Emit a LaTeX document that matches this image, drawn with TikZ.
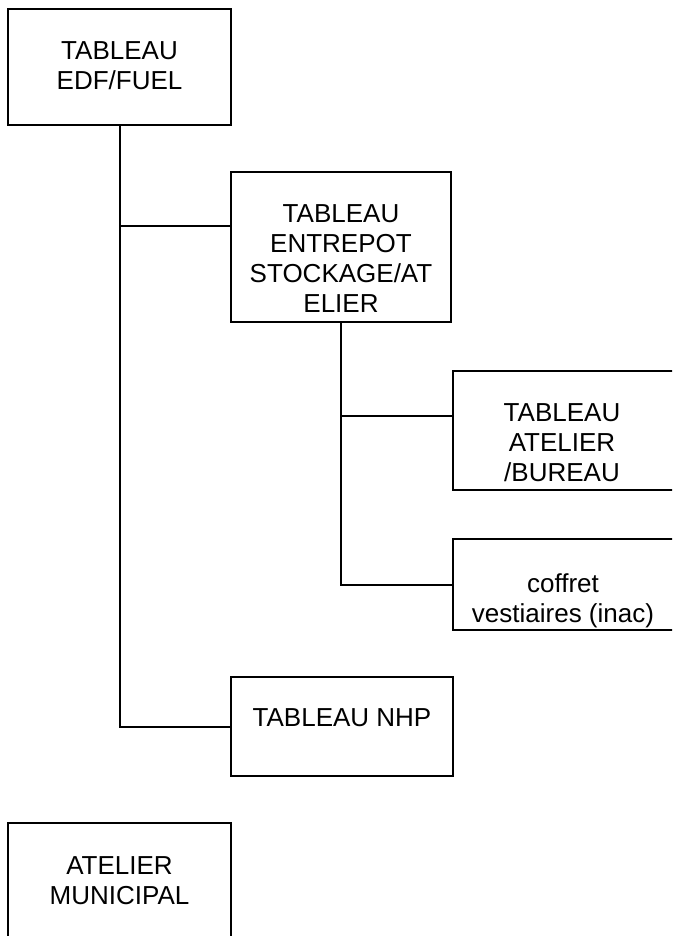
\documentclass[tikz,border=0pt]{standalone}
\usepackage{fontspec}
\setmainfont{Liberation Sans}
\usetikzlibrary{calc}

\tikzset{
    box/.style={draw, line width=1.5pt, inner sep=0pt},
    boxsize/.style 2 args={minimum width=#1*0.75pt, minimum height=#2*0.75pt},
    txt/.style={anchor=north, inner sep=0pt, align=center,
        font=\fontsize{19.5}{22.5}\selectfont},
    wire/.style={line width=1.5pt},
}

\begin{document}
\begin{tikzpicture}[x=0.75pt, y=-0.75pt]

    % --- 1. 枠 ---
    \useasboundingbox (0,0) rectangle (672,936);
    \clip (0,0) rectangle (672,936);

    % --- 2. 変数定義 ---
    \pgfmathsetmacro{\gap}{33}   % 枠の上端から文字まで

    % --- 3. 箱 ---
    \node[box, boxsize={223}{116}] (edf) at (119.5,67) {};
    \node[txt] (edf-txt) at ($(edf.north)+(0,\gap)$) {TABLEAU\\EDF/FUEL};

    \node[box, boxsize={220}{150}] (entrepot) at (341,247) {};
    \node[txt] (entrepot-txt) at ($(entrepot.north)+(0,\gap)$)
        {TABLEAU\\ENTREPOT\\STOCKAGE/AT\\ELIER};

    % 右端は切れている
    \node[box, boxsize={226}{119}] (bureau) at (566,430.5) {};
    \node[txt] (bureau-txt) at ($(bureau.north)+(-4,\gap)$)
        {TABLEAU\\ATELIER\\/BUREAU};

    \node[box, boxsize={226}{91}] (coffret) at (566,584.5) {};
    \node[txt] (coffret-txt) at ($(coffret.north)+(-3,\gap+2)$)
        {coffret\\vestiaires (inac)};

    \node[box, boxsize={222}{99}] (nhp) at (342,726.5) {};
    \node[txt] (nhp-txt) at ($(nhp.north)+(0,\gap-1)$) {TABLEAU NHP};

    \node[box, boxsize={223}{116}] (municipal) at (119.5,881) {};
    \node[txt] (municipal-txt) at ($(municipal.north)+(0,\gap+1)$)
        {ATELIER\\MUNICIPAL};

    % --- 4. 配線 ---
    \coordinate (tap-entrepot) at ($(entrepot.west)+(0,-21)$);
    \coordinate (tap-bureau) at ($(bureau.west)+(0,-14.5)$);

    \draw[wire] (edf.south) |- (nhp.west);
    \draw[wire] (edf.south |- tap-entrepot) -- (tap-entrepot);
    \draw[wire] (entrepot.south) |- (coffret.west);
    \draw[wire] (entrepot.south |- tap-bureau) -- (tap-bureau);

\end{tikzpicture}
\end{document}
